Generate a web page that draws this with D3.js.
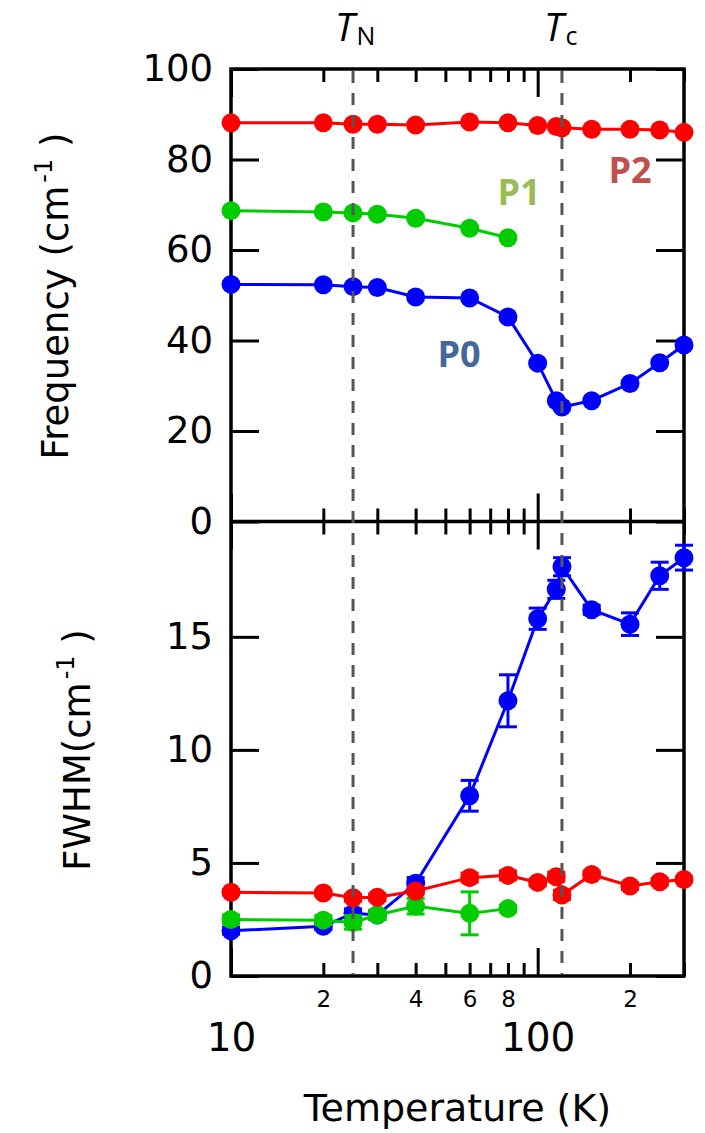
<!DOCTYPE html>
<html><head><meta charset="utf-8">
<script src="https://cdn.jsdelivr.net/npm/d3@7"></script>
<style>body{margin:0;background:#fff}svg{display:block}</style>
</head><body>
<svg id="c" width="705" height="1133"></svg>
<script>
// ---- data ----
const tempsP0 = [10,20,25,30,40,60,80,100,115,120,150,200,250,300];
const freqP0  = [52.4,52.3,51.9,51.7,49.6,49.4,45.2,35.0,26.7,25.3,26.7,30.5,35.1,39.0];
const fwhmP0  = [2.0,2.2,2.77,2.7,4.1,7.97,12.17,15.8,17.1,18.1,16.2,15.56,17.7,18.5];
const errP0   = [0.15,0.15,0.2,0.2,0.25,0.68,1.15,0.47,0.4,0.4,0.2,0.5,0.6,0.55];

const tempsP1 = [10,20,25,30,40,60,80];
const freqP1  = [68.7,68.4,68.2,67.9,67.0,64.8,62.7];
const fwhmP1  = [2.5,2.47,2.37,2.7,3.09,2.77,2.98];
const errP1   = [0.2,0.2,0.3,0.2,0.35,0.95,0.15];

const tempsP2 = [10,20,25,30,40,60,80,100,115,120,150,200,250,300];
const freqP2  = [88.1,88.1,87.8,87.8,87.6,88.3,88.1,87.5,87.3,87.0,86.7,86.7,86.5,86.0];
const fwhmP2  = [3.7,3.67,3.46,3.48,3.76,4.35,4.45,4.14,4.39,3.58,4.49,3.98,4.17,4.27];
const errP2   = [0.1,0.1,0.15,0.15,0.1,0.2,0.2,0.15,0.2,0.2,0.15,0.15,0.15,0.1];

const freqTicks = [0,20,40,60,80,100];
const fwhmTicks = [0,5,10,15];
const majorXTicks = [10,100];
const minorXTicks = [20,30,40,50,60,70,80,90,200,300];
const minorXLabels = {20:"2",40:"4",60:"6",80:"8",200:"2"};
const transitions = [{T:25, sub:"N"},{T:120, sub:"c"}];

// ---- layout ----
const L=231, R=684, T0=69, MID=521.5, B=976;
const FONT = "DejaVu Sans, sans-serif";
const svg = d3.select("#c");

const x = d3.scaleLog().domain([10,300]).range([L,R]);
const yF = d3.scaleLinear().domain([0,100]).range([MID,T0]);
const yW = d3.scaleLinear().domain([0,20.1]).range([B,MID]);

const series = [
  {name:"P0", color:"#0000ff", t:tempsP0, f:freqP0, w:fwhmP0, e:errP0},
  {name:"P1", color:"#00cc00", t:tempsP1, f:freqP1, w:fwhmP1, e:errP1},
  {name:"P2", color:"#ff0000", t:tempsP2, f:freqP2, w:fwhmP2, e:errP2}
];

// ---- axes ----
function styleAxis(g){
  g.select(".domain").remove();
  g.selectAll(".tick line").attr("stroke","#000").attr("stroke-width",3);
  g.selectAll(".tick text").attr("fill","#000").attr("font-family",FONT);
}
svg.append("g").attr("transform",`translate(${L},0)`)
  .call(d3.axisLeft(yF).tickValues(freqTicks).tickSizeInner(-28).tickSizeOuter(0).tickPadding(18).tickFormat(d3.format("d")))
  .call(styleAxis).call(g=>g.selectAll("text").attr("font-size",37));
svg.append("g").attr("transform",`translate(${L},0)`)
  .call(d3.axisLeft(yW).tickValues(fwhmTicks).tickSizeInner(-28).tickSizeOuter(0).tickPadding(18).tickFormat(d3.format("d")))
  .call(styleAxis).call(g=>g.selectAll("text").attr("font-size",37));
svg.append("g").attr("transform",`translate(${R},0)`)
  .call(d3.axisRight(yF).tickValues(freqTicks).tickSizeInner(-28).tickSizeOuter(0).tickFormat(""))
  .call(styleAxis);
svg.append("g").attr("transform",`translate(${R},0)`)
  .call(d3.axisRight(yW).tickValues(fwhmTicks).tickSizeInner(-28).tickSizeOuter(0).tickFormat(""))
  .call(styleAxis);
function xTicks(y, dir){
  const mk = dir>0 ? d3.axisTop : d3.axisBottom;
  svg.append("g").attr("transform",`translate(0,${y})`)
    .call(mk(x).tickValues(majorXTicks).tickSizeInner(-28).tickSizeOuter(0).tickFormat(""))
    .call(styleAxis);
  svg.append("g").attr("transform",`translate(0,${y})`)
    .call(mk(x).tickValues(minorXTicks).tickSizeInner(-13).tickSizeOuter(0).tickFormat(""))
    .call(styleAxis);
}
xTicks(T0, +1);
xTicks(MID, -1);
xTicks(MID, +1);
xTicks(B, -1);

svg.append("g").attr("transform",`translate(0,${B})`)
  .call(d3.axisBottom(x).tickValues(Object.keys(minorXLabels).map(Number)).tickSize(0).tickPadding(15).tickFormat(d=>minorXLabels[d]))
  .call(styleAxis).call(g=>g.selectAll("text").attr("font-size",23));
svg.append("g").attr("transform",`translate(0,${B})`)
  .call(d3.axisBottom(x).tickValues(majorXTicks).tickSize(0).tickPadding(47).tickFormat(d3.format("d")))
  .call(styleAxis).call(g=>g.selectAll("text").attr("font-size",39));

// frame
const frame = svg.append("g").attr("fill","none").attr("stroke","#000").attr("stroke-width",3.5);
frame.append("rect").attr("x",L).attr("y",T0).attr("width",R-L).attr("height",B-T0);
frame.append("line").attr("x1",L).attr("x2",R).attr("y1",MID).attr("y2",MID);

// ---- data marks ----
function drawPanel(key, y, withErr){
  const g = svg.append("g");
  series.forEach(s=>{
    const pts = s.t.map((t,i)=>({t, v:s[key][i], e:s.e[i]}));
    const sg = g.append("g");
    sg.append("path").datum(pts)
      .attr("fill","none").attr("stroke",s.color).attr("stroke-width",3)
      .attr("d", d3.line().x(d=>x(d.t)).y(d=>y(d.v)));
    if(withErr){
      const eb = sg.append("g").attr("stroke",s.color).attr("stroke-width",3);
      pts.forEach(d=>{
        const y1=y(d.v-d.e), y2=y(d.v+d.e), cx=x(d.t);
        eb.append("line").attr("x1",cx).attr("x2",cx).attr("y1",y1).attr("y2",y2);
        eb.append("line").attr("x1",cx-9).attr("x2",cx+9).attr("y1",y1).attr("y2",y1);
        eb.append("line").attr("x1",cx-9).attr("x2",cx+9).attr("y1",y2).attr("y2",y2);
      });
    }
    sg.selectAll("circle").data(pts).join("circle")
      .attr("cx",d=>x(d.t)).attr("cy",d=>y(d.v)).attr("r",9.5).attr("fill",s.color);
  });
}
drawPanel("f", yF, false);
drawPanel("w", yW, true);

// transition lines
transitions.forEach(tr=>{
  svg.append("line").attr("x1",x(tr.T)).attr("x2",x(tr.T)).attr("y1",T0+2).attr("y2",B-2)
    .attr("stroke","#555").attr("stroke-width",3).attr("stroke-dasharray","12,10");
  const t = svg.append("text").attr("x",x(tr.T)-18).attr("y",41).attr("font-family","Open Sans, sans-serif").attr("fill","#000");
  t.append("tspan").attr("font-style","italic").attr("font-size",39).text("T");
  t.append("tspan").attr("font-size",25).attr("dx",2).attr("dy",4).text(tr.sub);
});

// peak labels
const peakLabels = [
  {text:"P0", T:55.4, v:34.1, color:"#44689a"},
  {text:"P1", T:87, v:69.9, color:"#9bbb59"},
  {text:"P2", T:200, v:74.8, color:"#c0504d"}
];
peakLabels.forEach(p=>{
  svg.append("text").attr("x",x(p.T)).attr("y",yF(p.v)).attr("text-anchor","middle")
    .attr("font-family","Open Sans, sans-serif").attr("font-weight","bold").attr("font-size",36)
    .attr("fill",p.color).text(p.text);
});

// axis titles
function yTitle(cx, cy, main){
  const t = svg.append("text").attr("transform",`translate(${cx},${cy}) rotate(-90)`)
    .attr("text-anchor","middle").attr("font-family",FONT).attr("font-size",37).attr("fill","#000");
  t.append("tspan").text(main);
  t.append("tspan").attr("font-size",24).attr("dy",-16).attr("dx",3).text("-1");
  t.append("tspan").attr("dy",16).text(" )");
}
yTitle(68, 296, "Frequency (cm");
yTitle(90, 750, "FWHM(cm");

svg.append("text").attr("x",(L+R)/2).attr("y",1121).attr("text-anchor","middle")
  .attr("font-family",FONT).attr("font-size",38).attr("fill","#000").text("Temperature (K)");
</script>
</body></html>
